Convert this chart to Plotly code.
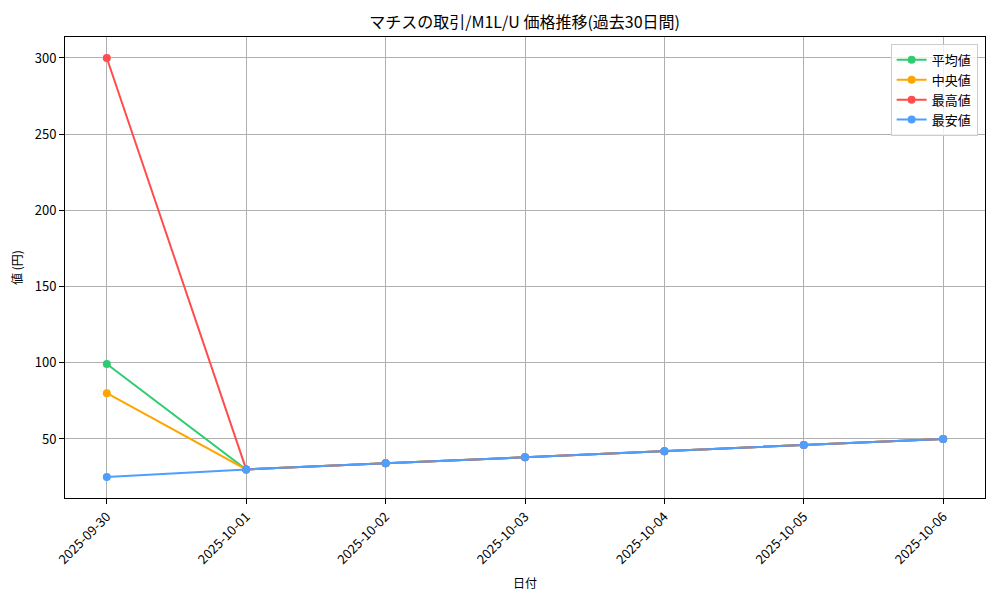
#!/usr/bin/env python3
"""Price trend line chart for the last 30 days (mean / median / max / min)."""

import plotly.graph_objects as go

DATES = ["2025-09-30", "2025-10-01", "2025-10-02", "2025-10-03",
         "2025-10-04", "2025-10-05", "2025-10-06"]
AVG_PRICE = [99.2, 30, 34, 38, 42, 46, 50]
MEDIAN_PRICE = [80, 30, 34, 38, 42, 46, 50]
MAX_PRICE = [300, 30, 34, 38, 42, 46, 50]
MIN_PRICE = [25, 30, 34, 38, 42, 46, 50]

SERIES = [
    ("平均値", AVG_PRICE, "#2ECC71"),
    ("中央値", MEDIAN_PRICE, "#FFA500"),
    ("最高値", MAX_PRICE, "#FF4D4D"),
    ("最安値", MIN_PRICE, "#4D9FFF"),
]

FONT = "Noto Sans CJK JP, DejaVu Sans, sans-serif"

fig = go.Figure()
x_idx = list(range(len(DATES)))
for name, values, color in SERIES:
    fig.add_trace(
        go.Scatter(
            x=x_idx,
            y=values,
            name=name,
            mode="lines+markers",
            line={"color": color, "width": 2},
            marker={"color": color, "size": 8},
        )
    )

axis_common = {
    "showline": True,
    "linecolor": "black",
    "linewidth": 1,
    "mirror": True,
    "showgrid": True,
    "gridcolor": "#B0B0B0",
    "gridwidth": 1,
    "ticks": "outside",
    "ticklen": 5,
    "tickcolor": "black",
    "zeroline": False,
    "automargin": False,
    "tickfont": {"size": 13, "color": "black"},
}

# page body has an 8px margin, so the figure is sized to fit inside it
fig.update_layout(
    width=984,
    height=584,
    paper_bgcolor="white",
    plot_bgcolor="white",
    font={"family": FONT, "color": "black"},
    title={
        "text": "マチスの取引/M1L/U 価格推移(過去30日間)",
        "x": 0.525,
        "xanchor": "center",
        "y": 0.976,
        "yanchor": "middle",
        "font": {"size": 16},
    },
    margin={"l": 57, "r": 7, "t": 29, "b": 94},
    xaxis={
        **axis_common,
        "range": [-0.3, 6.3],
        "tickmode": "array",
        "tickvals": x_idx,
        "ticktext": DATES,
        "tickangle": -45,
        "title": {"text": "日付", "font": {"size": 12}, "standoff": 12},
    },
    yaxis={
        **axis_common,
        "range": [11.25, 313.75],
        "tickvals": [50, 100, 150, 200, 250, 300],
        "title": {"text": "値 (円)", "font": {"size": 12}, "standoff": 10},
    },
    legend={
        "x": 0.992,
        "xanchor": "right",
        "y": 0.985,
        "yanchor": "top",
        "bgcolor": "rgba(255,255,255,0.8)",
        "bordercolor": "#CCCCCC",
        "borderwidth": 1,
        "font": {"size": 13},
        "itemwidth": 30,
        "tracegroupgap": 0,
    },
    showlegend=True,
)

fig.write_html("out.html")
